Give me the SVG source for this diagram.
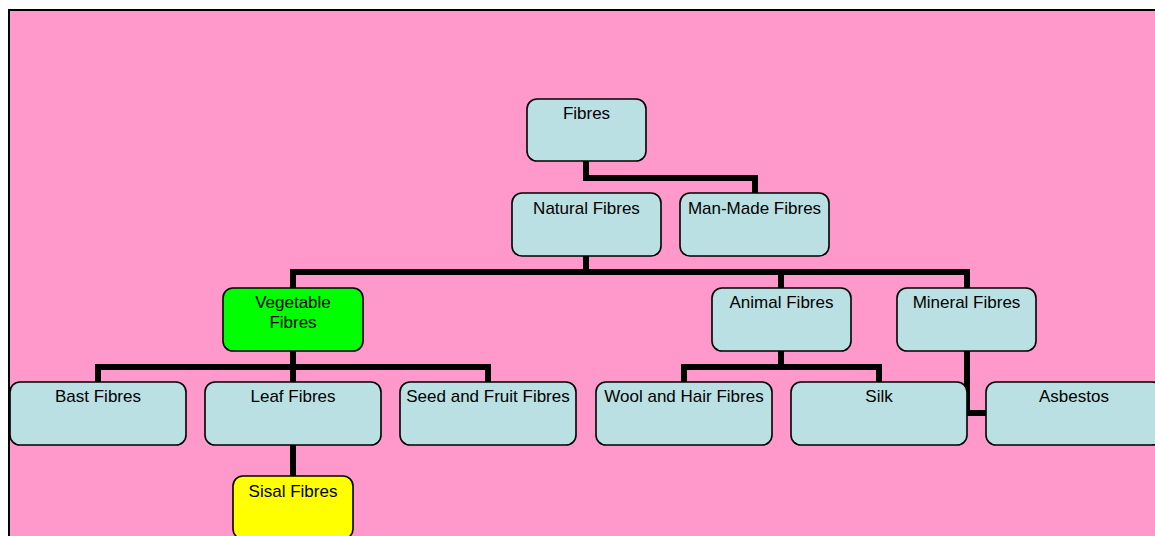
<svg xmlns="http://www.w3.org/2000/svg" width="1155" height="536" viewBox="0 0 1155 536">
  <style>
    .bg { fill: #FF99CC; stroke: #000; stroke-width: 2; }
    .box { fill: #BBE0E3; stroke: #000; stroke-width: 1.6; }
    .veg { fill: #00FF00; }
    .sisal { fill: #FFFF00; }
    .lbl { font-family: "Liberation Sans", Arial, sans-serif; font-size: 17px; fill: #000; text-anchor: middle; }
    .link { fill: none; stroke: #000; stroke-width: 6; stroke-linejoin: miter; stroke-linecap: square; }
  </style>

  <!-- slide background -->
  <rect class="bg" x="9" y="10" width="1160" height="540"/>

  <!-- connectors -->
  <g id="connectors">
    <polyline class="link" points="586,163 586,178 755,178 755,191"/>
    <polyline class="link" points="586,258 586,272"/>
    <polyline class="link" points="293,286 293,272 967,272 967,286"/>
    <polyline class="link" points="781,272 781,286"/>
    <polyline class="link" points="293,353 293,367"/>
    <polyline class="link" points="98,380 98,367 488,367 488,380"/>
    <polyline class="link" points="293,367 293,380"/>
    <polyline class="link" points="781,353 781,367"/>
    <polyline class="link" points="684,380 684,367 879,367 879,380"/>
    <polyline class="link" points="967,353 967,413 984,413"/>
    <polyline class="link" points="293,447 293,474"/>
  </g>

  <g id="fibres">
    <rect class="box" x="527" y="99" width="119" height="62" rx="10"/>
    <text class="lbl" x="586.5" y="119">Fibres</text>
  </g>
  <g id="natural-fibres">
    <rect class="box" x="512" y="193" width="149" height="63" rx="10"/>
    <text class="lbl" x="586.5" y="214">Natural Fibres</text>
  </g>
  <g id="man-made-fibres">
    <rect class="box" x="680" y="193" width="149" height="63" rx="10"/>
    <text class="lbl" x="754.5" y="214">Man-Made Fibres</text>
  </g>
  <g id="vegetable-fibres">
    <rect class="box veg" x="223" y="288" width="140" height="63" rx="10"/>
    <text class="lbl" x="293" y="308">Vegetable</text>
    <text class="lbl" x="293" y="327.5">Fibres</text>
  </g>
  <g id="animal-fibres">
    <rect class="box" x="712" y="288" width="139" height="63" rx="10"/>
    <text class="lbl" x="781.5" y="308">Animal Fibres</text>
  </g>
  <g id="mineral-fibres">
    <rect class="box" x="897" y="288" width="139" height="63" rx="10"/>
    <text class="lbl" x="966.5" y="308">Mineral Fibres</text>
  </g>
  <g id="bast-fibres">
    <rect class="box" x="10" y="382" width="176" height="63" rx="10"/>
    <text class="lbl" x="98" y="402">Bast Fibres</text>
  </g>
  <g id="leaf-fibres">
    <rect class="box" x="205" y="382" width="176" height="63" rx="10"/>
    <text class="lbl" x="293" y="402">Leaf Fibres</text>
  </g>
  <g id="seed-and-fruit-fibres">
    <rect class="box" x="400" y="382" width="176" height="63" rx="10"/>
    <text class="lbl" x="488" y="402">Seed and Fruit Fibres</text>
  </g>
  <g id="wool-and-hair-fibres">
    <rect class="box" x="596" y="382" width="176" height="63" rx="10"/>
    <text class="lbl" x="684" y="402">Wool and Hair Fibres</text>
  </g>
  <g id="silk">
    <rect class="box" x="791" y="382" width="176" height="63" rx="10"/>
    <text class="lbl" x="879" y="402">Silk</text>
  </g>
  <g id="asbestos">
    <rect class="box" x="986" y="382" width="176" height="63" rx="10"/>
    <text class="lbl" x="1074" y="402">Asbestos</text>
  </g>
  <g id="sisal-fibres">
    <rect class="box sisal" x="233" y="476" width="120" height="63" rx="10"/>
    <text class="lbl" x="293" y="497">Sisal Fibres</text>
  </g>
</svg>
